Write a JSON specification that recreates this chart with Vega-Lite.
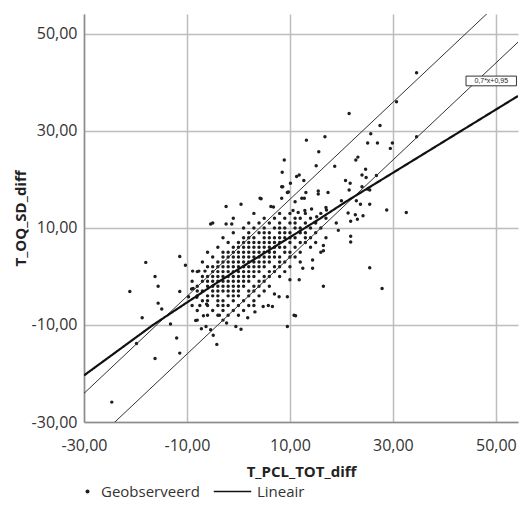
{
"$schema":"https://vega.github.io/schema/vega-lite/v6.json",
"width":434,"height":408,"autosize":"none",
"padding":{"left":84,"top":14,"right":7,"bottom":88},
"background":"white",
"config":{"view":{"stroke":null},
"axis":{"labelFont":"Open Sans","labelFontSize":16,"labelColor":"#333","titleFont":"Open Sans","titleFontSize":15,"titleFontWeight":"bold","titleColor":"#222","ticks":false,"grid":true,"gridColor":"#bdbdbd","gridWidth":1.5,"domainColor":"#8c8c8c","domainWidth":1.5,"labelOverlap":false,"labelBound":false,"labelFlush":false},
"legend":{"labelFont":"Open Sans","labelFontSize":15,"labelColor":"#333"}},
"datasets":{
"pts":[
{"x":3,"y":13},{"x":8,"y":13},{"x":10,"y":13},{"x":13,"y":13},{"x":16,"y":13},
{"x":-1,"y":12},{"x":5,"y":12},{"x":7,"y":12},{"x":9,"y":12},{"x":11,"y":12},{"x":12,"y":12},{"x":14,"y":12},{"x":17,"y":12},
{"x":-5,"y":11},{"x":2,"y":11},{"x":4,"y":11},{"x":6,"y":11},{"x":8,"y":11},{"x":10,"y":11},{"x":11,"y":11},{"x":13,"y":11},{"x":15,"y":11},{"x":19,"y":11},
{"x":1,"y":10},{"x":3,"y":10},{"x":5,"y":10},{"x":7,"y":10},{"x":8,"y":10},{"x":9,"y":10},{"x":11,"y":10},{"x":12,"y":10},{"x":14,"y":10},{"x":16,"y":10},
{"x":-1,"y":9},{"x":2,"y":9},{"x":4,"y":9},{"x":5,"y":9},{"x":6,"y":9},{"x":8,"y":9},{"x":9,"y":9},{"x":10,"y":9},{"x":12,"y":9},{"x":13,"y":9},{"x":15,"y":9},
{"x":-3,"y":8},{"x":1,"y":8},{"x":2,"y":8},{"x":3,"y":8},{"x":5,"y":8},{"x":6,"y":8},{"x":7,"y":8},{"x":8,"y":8},{"x":9,"y":8},{"x":10,"y":8},{"x":11,"y":8},{"x":13,"y":8},{"x":14,"y":8},{"x":17,"y":8},
{"x":-2,"y":7},{"x":0,"y":7},{"x":1,"y":7},{"x":2,"y":7},{"x":3,"y":7},{"x":4,"y":7},{"x":5,"y":7},{"x":6,"y":7},{"x":7,"y":7},{"x":8,"y":7},{"x":10,"y":7},{"x":12,"y":7},{"x":13,"y":7},{"x":15,"y":7},
{"x":-4,"y":6},{"x":-1,"y":6},{"x":0,"y":6},{"x":1,"y":6},{"x":2,"y":6},{"x":3,"y":6},{"x":4,"y":6},{"x":5,"y":6},{"x":6,"y":6},{"x":7,"y":6},{"x":8,"y":6},{"x":9,"y":6},{"x":11,"y":6},{"x":14,"y":6},
{"x":-6,"y":5},{"x":-3,"y":5},{"x":-2,"y":5},{"x":-1,"y":5},{"x":0,"y":5},{"x":1,"y":5},{"x":2,"y":5},{"x":3,"y":5},{"x":4,"y":5},{"x":5,"y":5},{"x":6,"y":5},{"x":7,"y":5},{"x":9,"y":5},{"x":10,"y":5},{"x":12,"y":5},{"x":16,"y":5},
{"x":-5,"y":4},{"x":-3,"y":4},{"x":-2,"y":4},{"x":-1,"y":4},{"x":0,"y":4},{"x":1,"y":4},{"x":2,"y":4},{"x":3,"y":4},{"x":4,"y":4},{"x":5,"y":4},{"x":6,"y":4},{"x":7,"y":4},{"x":8,"y":4},{"x":10,"y":4},{"x":11,"y":4},
{"x":-7,"y":3},{"x":-4,"y":3},{"x":-3,"y":3},{"x":-2,"y":3},{"x":-1,"y":3},{"x":0,"y":3},{"x":1,"y":3},{"x":2,"y":3},{"x":3,"y":3},{"x":4,"y":3},{"x":5,"y":3},{"x":6,"y":3},{"x":8,"y":3},{"x":9,"y":3},{"x":12,"y":3},
{"x":-6,"y":2},{"x":-5,"y":2},{"x":-4,"y":2},{"x":-3,"y":2},{"x":-2,"y":2},{"x":-1,"y":2},{"x":0,"y":2},{"x":1,"y":2},{"x":2,"y":2},{"x":3,"y":2},{"x":4,"y":2},{"x":5,"y":2},{"x":7,"y":2},{"x":8,"y":2},{"x":10,"y":2},
{"x":-8,"y":1},{"x":-5,"y":1},{"x":-4,"y":1},{"x":-3,"y":1},{"x":-2,"y":1},{"x":-1,"y":1},{"x":0,"y":1},{"x":1,"y":1},{"x":2,"y":1},{"x":3,"y":1},{"x":4,"y":1},{"x":6,"y":1},{"x":7,"y":1},{"x":9,"y":1},
{"x":-7,"y":0},{"x":-6,"y":0},{"x":-5,"y":0},{"x":-4,"y":0},{"x":-3,"y":0},{"x":-2,"y":0},{"x":-1,"y":0},{"x":0,"y":0},{"x":1,"y":0},{"x":2,"y":0},{"x":3,"y":0},{"x":5,"y":0},{"x":6,"y":0},{"x":8,"y":0},
{"x":-9,"y":-1},{"x":-7,"y":-1},{"x":-6,"y":-1},{"x":-5,"y":-1},{"x":-4,"y":-1},{"x":-3,"y":-1},{"x":-2,"y":-1},{"x":-1,"y":-1},{"x":0,"y":-1},{"x":1,"y":-1},{"x":2,"y":-1},{"x":4,"y":-1},{"x":5,"y":-1},
{"x":-8,"y":-2},{"x":-6,"y":-2},{"x":-5,"y":-2},{"x":-4,"y":-2},{"x":-3,"y":-2},{"x":-2,"y":-2},{"x":-1,"y":-2},{"x":0,"y":-2},{"x":1,"y":-2},{"x":3,"y":-2},{"x":4,"y":-2},{"x":6,"y":-2},
{"x":-8,"y":-3},{"x":-7,"y":-3},{"x":-5,"y":-3},{"x":-4,"y":-3},{"x":-3,"y":-3},{"x":-2,"y":-3},{"x":-1,"y":-3},{"x":0,"y":-3},{"x":2,"y":-3},{"x":3,"y":-3},{"x":5,"y":-3},
{"x":-8,"y":-4},{"x":-6,"y":-4},{"x":-5,"y":-4},{"x":-4,"y":-4},{"x":-2,"y":-4},{"x":-1,"y":-4},{"x":0,"y":-4},{"x":2,"y":-4},{"x":4,"y":-4},
{"x":-7,"y":-5},{"x":-6,"y":-5},{"x":-4,"y":-5},{"x":-3,"y":-5},{"x":-1,"y":-5},{"x":1,"y":-5},{"x":3,"y":-5},
{"x":-9,"y":-6},{"x":-6,"y":-6},{"x":-4,"y":-6},{"x":-3,"y":-6},{"x":-2,"y":-6},{"x":0,"y":-6},{"x":2,"y":-6},
{"x":-8,"y":-7},{"x":-5,"y":-7},{"x":-3,"y":-7},{"x":-1,"y":-7},{"x":1,"y":-7},
{"x":-6,"y":-8},{"x":-4,"y":-8},{"x":-2,"y":-8},{"x":0,"y":-8},
{"x":-8,"y":-9},{"x":-3,"y":-9},
{"x":34.6,"y":42.0},{"x":21.5,"y":33.6},{"x":30.7,"y":36.0},{"x":27.5,"y":31.1},{"x":25.7,"y":29.4},{"x":25.1,"y":27.5},{"x":27.0,"y":27.5},{"x":29.9,"y":27.5},{"x":29.5,"y":26.4},{"x":34.6,"y":28.8},
{"x":13.2,"y":28.1},{"x":16.8,"y":28.8},{"x":15.6,"y":25.7},{"x":8.9,"y":24.0},{"x":23.2,"y":24.6},{"x":22.8,"y":24.0},{"x":15.1,"y":22.8},{"x":18.7,"y":22.7},{"x":8.5,"y":21.5},{"x":11.3,"y":20.6},
{"x":11.8,"y":20.9},{"x":12.7,"y":19.8},{"x":24.7,"y":22.1},{"x":24.0,"y":20.9},{"x":26.8,"y":20.8},{"x":20.8,"y":19.8},{"x":21.7,"y":19.2},{"x":8.4,"y":18.5},{"x":10.1,"y":19.2},{"x":9.5,"y":17.3},
{"x":13.1,"y":17.3},{"x":15.5,"y":17.0},{"x":15.5,"y":17.6},{"x":17.4,"y":17.3},{"x":24.0,"y":18.5},{"x":25.1,"y":18.0},{"x":21.5,"y":17.8},{"x":4.2,"y":16.1},{"x":8.4,"y":16.1},{"x":12.3,"y":16.1},
{"x":12.8,"y":16.1},{"x":24.8,"y":20.4},{"x":25.5,"y":17.8},{"x":20.0,"y":15.6},{"x":22.9,"y":15.6},{"x":23.7,"y":14.9},{"x":25.5,"y":14.9},{"x":28.8,"y":13.7},{"x":32.6,"y":13.2},{"x":17.0,"y":14.2},
{"x":21.3,"y":13.1},{"x":21.8,"y":11.4},{"x":23.1,"y":11.8},{"x":24.2,"y":12.5},{"x":22.7,"y":12.7},{"x":19.4,"y":9.5},{"x":21.8,"y":8.3},{"x":21.8,"y":7.1},{"x":16.5,"y":6.4},{"x":16.5,"y":5.3},
{"x":25.5,"y":1.8},{"x":16.5,"y":-2.0},{"x":27.9,"y":-2.5},{"x":17.1,"y":13.7},{"x":-2.4,"y":14.4},{"x":0.5,"y":14.9},{"x":6.3,"y":14.4},{"x":4.4,"y":16.0},{"x":6.8,"y":14.3},{"x":8.6,"y":18.5},
{"x":9.7,"y":17.4},{"x":14.4,"y":3.4},{"x":14.4,"y":1.7},{"x":12.5,"y":1.7},{"x":11.8,"y":-0.7},{"x":10.0,"y":-0.7},{"x":9.5,"y":-4.2},{"x":10.8,"y":-8.0},{"x":9.5,"y":-10.3},{"x":11.1,"y":-8.1},
{"x":11.0,"y":15.4},{"x":10.6,"y":13.6},{"x":11.6,"y":13.2},{"x":12.9,"y":13.6},{"x":14.2,"y":13.9},{"x":15.2,"y":12.3},
{"x":-5.4,"y":10.8},{"x":-2.4,"y":10.8},{"x":-1.3,"y":10.8},{"x":-11.4,"y":4.1},{"x":-18.0,"y":2.9},{"x":-10.3,"y":2.3},{"x":-16.2,"y":0.0},{"x":-15.6,"y":-2.0},{"x":-21.1,"y":-3.1},{"x":-11.4,"y":-3.1},
{"x":-9.1,"y":-2.6},{"x":-15.6,"y":-5.5},{"x":-14.9,"y":-6.7},{"x":-18.7,"y":-8.5},{"x":-13.2,"y":-9.8},{"x":-12.0,"y":-12.7},{"x":-11.4,"y":-15.8},{"x":-19.8,"y":-13.8},{"x":-16.2,"y":-16.9},{"x":-24.6,"y":-25.9},
{"x":-4.2,"y":-14.0},{"x":-4.9,"y":-12.1},{"x":-5.4,"y":-11.0},{"x":-7.2,"y":-10.8},{"x":0.5,"y":-10.9},{"x":-0.5,"y":-10.3},{"x":-2.3,"y":-9.6},{"x":1.8,"y":-8.5},{"x":-8.3,"y":-9.1},{"x":-3.7,"y":-8.0},
{"x":3.2,"y":-7.3},{"x":4.8,"y":-6.2},{"x":6.6,"y":-6.2},{"x":7.9,"y":-4.2},{"x":-8.9,"y":1.1},{"x":-7.7,"y":1.1},{"x":-6.5,"y":1.1},{"x":-8.8,"y":-2.5},{"x":-9.7,"y":-4.2},{"x":-8.1,"y":-4.3},
{"x":-7.5,"y":-6.0},{"x":-6.2,"y":-5.7},{"x":-6.8,"y":-8.1},{"x":-6.3,"y":-10.3},{"x":7.0,"y":-3.6},{"x":3.0,"y":-6.0},{"x":5.8,"y":-6.0}
],
"bands":[
{"line":"upper","x":-30,"y":-24.1},{"x":55,"y":60.9,"line":"upper"},
{"line":"lower","x":-30,"y":-36.0},{"x":55,"y":49.0,"line":"lower"}
],
"fit":[
{"x":-30,"y":-20.4},{"x":-16.6,"y":-10.0},{"x":-5.5,"y":-2.2},{"x":0,"y":1.5},{"x":15.8,"y":11.9},{"x":21,"y":15.5},{"x":54.3,"y":37.2}
],
"boxr":[{"x":44.2,"x2":54.0,"y":41.3,"y2":39.3}],
"boxt":[{"x":49.1,"y":40.3,"label":"0,7*x+0,95"}]
},
"encoding":{
"x":{"field":"x","type":"quantitative","scale":{"domain":[-30,54.3],"nice":false,"zero":false},
"axis":{"title":"T_PCL_TOT_diff","values":[-30,-10,10,30,50],"labelExpr":"replace(replace(format(datum.value,'.2f'),'.',','),'\u2212','-')","labelPadding":15,"titlePadding":11}},
"y":{"field":"y","type":"quantitative","scale":{"domain":[-30,54.1],"nice":false,"zero":false},
"axis":{"title":"T_OQ_SD_diff","values":[-30,-10,10,30,50],"labelExpr":"replace(replace(format(datum.value,'.2f'),'.',','),'\u2212','-')","labelPadding":7,"titlePadding":3}}
},
"layer":[
{"data":{"name":"pts"},"mark":{"type":"point","filled":true,"size":12,"color":"#1e1e1e","opacity":1},
"encoding":{"shape":{"datum":"Geobserveerd","scale":{"range":["circle"]},
"legend":{"orient":"none","legendX":-4,"legendY":470,"title":null,"symbolSize":16,"symbolFillColor":"#1e1e1e","symbolStrokeWidth":0,"labelOffset":6}}}},
{"data":{"name":"bands"},"mark":{"type":"line","clip":true,"color":"#333","strokeWidth":1},
"encoding":{"detail":{"field":"line"}}},
{"data":{"name":"fit"},"mark":{"type":"line","clip":true,"color":"#111","strokeWidth":2.2},
"encoding":{"strokeDash":{"datum":"Lineair","scale":{"range":[[1,0]]},
"legend":{"orient":"none","legendX":129,"legendY":458,"title":null,"symbolType":"stroke","symbolSize":1400,"symbolStrokeWidth":1.5,"symbolStrokeColor":"#111","labelOffset":5}}}},
{"data":{"name":"boxr"},"mark":{"type":"rect","fill":"white","stroke":"#333","strokeWidth":1},
"encoding":{"x2":{"field":"x2"},"y2":{"field":"y2"}}},
{"data":{"name":"boxt"},"mark":{"type":"text","fontSize":7,"font":"Liberation Sans","color":"#222"},
"encoding":{"text":{"field":"label"}}}
]
}
